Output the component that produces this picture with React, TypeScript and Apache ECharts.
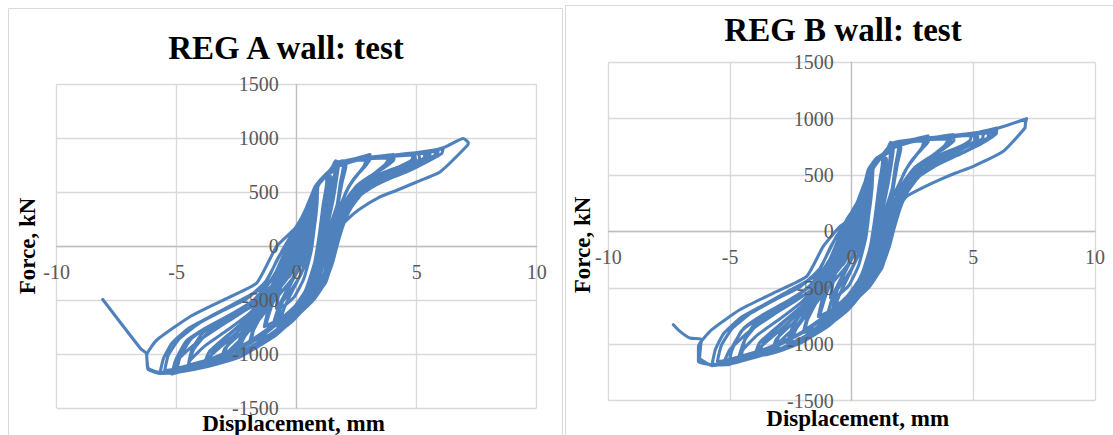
import React, { useEffect, useRef } from "react";
import * as echarts from "echarts";

// Axis ranges and tick steps
const DISP_MIN = -10;
const DISP_MAX = 10;
const DISP_STEP = 5;
const FORCE_MIN = -1500;
const FORCE_MAX = 1500;
const FORCE_STEP = 500;

const panelTitles = ["REG A wall: test", "REG B wall: test"];
const xAxisTitle = "Displacement, mm";
const yAxisTitle = "Force, kN";

// Cyclic test record, REG A wall: [displacement mm, force kN]
const regA: [number, number][] = [
  // level 1
  [0, 0], [0.2, 150], [0.38, 260], [0.35, 180], [0.2, 0], [0, -150], [-0.3, -280], [-0.42, -300], [-0.35, -200], [-0.15, -30], [0.05, 120],
  // level 2
  [0.3, 290], [0.6, 450], [0.82, 530], [0.8, 450], [0.65, 250], [0.5, 0], [0.2, -250], [-0.3, -430], [-0.7, -540], [-0.85, -575], [-0.75, -450], [-0.5, -250], [-0.2, 0], [0.15, 200],
  [0.45, 370], [0.7, 490], [0.85, 520], [0.85, 420], [0.75, 200], [0.6, -50], [0.3, -300], [-0.1, -470], [-0.6, -560], [-0.85, -560], [-0.7, -400], [-0.4, -180], [-0.05, 60], [0.3, 280],
  // level 3
  [0.6, 440], [0.95, 600], [1.25, 665], [1.25, 590], [1.1, 380], [0.95, 120], [0.75, -150], [0.35, -420], [-0.3, -620], [-0.9, -700], [-1.35, -745], [-1.2, -600], [-0.9, -380], [-0.5, -120], [-0.1, 140], [0.3, 300],
  [0.7, 500], [1.05, 620], [1.3, 660], [1.28, 560], [1.15, 320], [1.0, 50], [0.8, -220], [0.4, -460], [-0.2, -640], [-0.9, -740], [-1.3, -740], [-1.05, -560], [-0.6, -330], [0.1, -80], [0.35, 150], [0.55, 400],
  // level 4
  [0.8, 545], [1.2, 655], [1.5, 730], [1.75, 780], [1.72, 710], [1.55, 480], [1.2, 220], [0.95, -30], [0.7, -300], [0.35, -500], [-0.3, -690], [-1.1, -820], [-1.9, -885], [-1.8, -780], [-1.5, -650], [-1.1, -480], [-0.7, -260], [0.05, 0], [0.3, 200], [0.55, 420],
  [0.9, 585], [1.3, 680], [1.65, 750], [1.68, 690], [1.52, 430], [1.25, 150], [1.05, -100], [0.8, -330], [0.45, -540], [-0.2, -700], [-1.0, -830], [-1.95, -880], [-1.75, -720], [-1.25, -520], [-0.75, -300], [0.2, -50], [0.45, 220], [0.7, 450],
  [0.95, 590], [1.2, 650], [1.35, 620], [1.3, 480], [1.15, 300], [1.0, 100], [0.8, -120], [0.55, -330], [0.2, -520], [-0.4, -680], [-0.7, -700], [-0.5, -560], [-0.1, -380], [0.3, -200], [0.55, 0], [0.75, 200], [0.85, 400],
  // level 5
  [0.9, 580], [1.3, 680], [1.5, 740], [1.62, 790], [1.75, 780], [1.9, 792], [2.02, 785], [2.05, 740], [1.9, 600], [1.75, 420], [1.6, 220], [1.4, 0], [1.15, -250], [0.5, -450], [-0.3, -650], [-1.1, -830], [-1.8, -930], [-2.5, -990], [-2.35, -880], [-1.9, -740], [-1.4, -580], [-0.9, -380], [-0.45, -130], [0, 130], [0.4, 340],
  [0.7, 500], [0.8, 550], [1.25, 665], [1.7, 760], [2.0, 775], [1.98, 700], [1.8, 520], [1.62, 300], [1.2, 100], [1.0, -100], [0.8, -330], [0.3, -520], [-0.4, -690], [-1.2, -860], [-1.9, -940], [-2.55, -975], [-2.3, -820], [-1.7, -630], [-1.1, -420], [-0.2, -180], [0.3, 60], [0.5, 260],
  [0.9, 560], [1.3, 660], [1.45, 640], [1.4, 500], [1.3, 330], [1.15, 150], [0.95, -50], [0.65, -260], [0.3, -440], [-0.3, -620], [-0.8, -690], [-0.6, -520], [-0.2, -330], [0.2, -160], [0.45, 50], [0.6, 250],
  [0.6, 430], [1.0, 610], [1.45, 715], [1.85, 770], [1.95, 745], [1.82, 590], [1.68, 380], [1.35, 160], [1.1, -40], [0.85, -270], [0.5, -470], [-0.1, -625], [-0.9, -800], [-1.7, -920], [-2.45, -985], [-2.2, -850], [-1.5, -640], [-0.8, -360], [0.35, -60], [0.55, 150], [0.65, 350],
  // level 6
  [0.75, 520], [0.95, 600], [1.4, 700], [2.0, 790], [2.5, 815], [3.05, 849], [3.05, 800], [2.75, 720], [2.4, 630], [2.05, 500], [1.8, 330], [1.62, 120], [1.42, -80], [1.18, -300], [0.6, -500], [-0.05, -650], [-0.9, -820], [-2.0, -960], [-3.07, -1071], [-2.9, -990], [-2.4, -880], [-1.7, -720], [-1.0, -520], [0, -250], [0.45, 50], [0.6, 250],
  [0.7, 500], [1.1, 635], [1.6, 740], [2.2, 790], [2.9, 815], [2.95, 770], [2.6, 680], [2.2, 560], [1.9, 420], [1.5, 230], [1.25, 40], [1.0, -170], [0.75, -380], [0.3, -560], [-0.42, -720], [-1.3, -880], [-2.3, -1000], [-3.15, -1060], [-3.0, -950], [-2.3, -800], [-1.5, -600], [-0.7, -330], [-0.1, -40], [0.2, 110],
  [0.4, 350], [0.8, 545], [1.05, 625], [1.7, 750], [2.4, 795], [2.9, 800], [2.8, 740], [2.45, 640], [2.1, 520], [1.85, 360], [1.66, 170], [1.46, -20], [1.25, -230], [0.85, -420], [0.2, -590], [-0.6, -760], [-1.6, -920], [-2.6, -1020], [-3.1, -1040], [-2.8, -880], [-2.0, -680], [-1.2, -450], [-0.2, -170], [0.25, 100], [0.45, 280],
  [0.85, 560], [1.25, 660], [1.6, 700], [1.55, 600], [1.4, 420], [1.2, 250], [1.05, 60], [0.85, -150], [0.55, -350], [0.1, -540], [-0.6, -700], [-1.0, -740], [-0.75, -560], [-0.3, -360], [0.15, -150], [0.45, 80], [0.6, 300],
  // level 7
  [0.7, 510], [1.2, 655], [1.8, 760], [2.5, 805], [3.3, 830], [4.03, 849], [4.05, 800], [3.6, 720], [3.0, 640], [2.5, 560], [2.1, 440], [1.85, 280], [1.65, 80], [1.45, -120], [1.2, -330], [0.7, -500], [0, -650], [-0.9, -830], [-2.1, -990], [-3.1, -1070], [-3.75, -1102], [-3.6, -1020], [-3.0, -900], [-2.2, -740], [-1.4, -560], [-0.4, -300], [0.25, -10], [0.5, 250],
  [0.4, 340], [0.8, 545], [1.0, 612], [1.6, 740], [2.4, 795], [3.2, 815], [3.95, 830], [3.9, 780], [3.4, 690], [2.8, 600], [2.3, 500], [1.95, 360], [1.45, 170], [1.15, -30], [0.9, -250], [0.6, -420], [0.35, -550], [-0.5, -730], [-1.6, -910], [-2.7, -1040], [-3.5, -1090], [-3.85, -1090], [-3.65, -980], [-2.9, -830], [-2.0, -660], [-1.2, -460], [-0.3, -210], [0.4, 90],
  [0.55, 250], [0.6, 440], [1.15, 650], [1.9, 770], [2.8, 805], [3.5, 815], [3.85, 812], [3.7, 760], [3.15, 660], [2.6, 570], [2.15, 460], [1.88, 300], [1.2, 110], [0.95, -90], [0.7, -290], [0.45, -460], [0.1, -610], [-0.7, -780], [-1.9, -950], [-3.0, -1050], [-3.7, -1075], [-3.45, -960], [-2.6, -780], [-1.7, -600], [-0.9, -380], [0.1, -100], [0.3, 120],
  // level 8
  [0.35, 310], [0.75, 530], [0.95, 600], [1.6, 740], [2.5, 800], [3.5, 825], [4.4, 845], [5.07, 858], [5.12, 810], [4.6, 740], [3.9, 670], [3.2, 590], [2.6, 500], [2.15, 380], [1.88, 220], [1.66, 40], [1.46, -150], [1.22, -330], [0.75, -470], [0.05, -630], [-0.9, -820], [-2.2, -990], [-3.4, -1085], [-4.58, -1148], [-4.45, -1060], [-3.8, -920], [-2.9, -780], [-2.0, -630], [-1.2, -430], [-0.6, -170], [-0.1, 120],
  [0.15, 220], [0.6, 450], [1.1, 635], [1.8, 760], [2.8, 805], [3.9, 835], [4.9, 850], [4.95, 805], [4.4, 720], [3.6, 630], [2.9, 540], [2.35, 430], [1.98, 280], [1.45, 100], [1.2, -90], [0.95, -270], [0.7, -400], [0.3, -560], [-0.6, -740], [-1.9, -950], [-3.2, -1070], [-4.3, -1120], [-4.55, -1130], [-4.3, -960], [-3.7, -800], [-2.8, -660], [-1.7, -540], [-0.6, -300], [0.1, -20],
  [0.35, 180], [0.55, 420], [1.0, 612], [1.7, 750], [2.6, 800], [3.6, 825], [4.5, 840], [4.85, 845], [4.8, 800], [4.3, 740], [3.6, 680], [2.9, 600], [2.3, 490], [1.95, 330], [1.5, 120], [1.2, -80], [0.9, -280], [0.5, -420], [-0.2, -600], [-1.2, -790], [-2.5, -960], [-3.7, -1060], [-4.4, -1100], [-4.5, -1090], [-4.35, -950], [-3.9, -800], [-3.1, -680], [-2.2, -570], [-1.4, -420], [-0.7, -180], [-0.1, 80],
  // level 9
  [0.35, 180], [0.5, 400], [1.0, 612], [1.7, 750], [2.7, 805], [3.8, 835], [4.8, 860], [5.55, 883], [5.55, 840], [5.0, 760], [4.2, 680], [3.4, 600], [2.7, 500], [2.2, 370], [1.9, 210], [1.3, 30], [1.05, -160], [0.85, -320], [0.8, -440], [0.15, -600], [-0.7, -770], [-2.0, -970], [-3.4, -1080], [-4.6, -1150], [-5.2, -1185], [-5.05, -1060], [-4.6, -880], [-3.8, -760], [-2.8, -640], [-1.8, -500], [-1.0, -300], [-0.45, -30],
  [-0.2, 110], [0.3, 290], [0.7, 505], [0.9, 590], [1.5, 720], [2.4, 790], [3.5, 825], [4.6, 850], [5.45, 870], [5.45, 825], [4.8, 730], [4.0, 650], [3.2, 560], [2.5, 460], [2.05, 320], [1.78, 150], [1.6, -30], [1.4, -200], [1.1, -360], [0.5, -510], [-0.3, -690], [-1.5, -880], [-2.9, -1040], [-4.1, -1120], [-4.9, -1160], [-5.15, -1160], [-4.9, -1040], [-4.1, -880], [-3.1, -730], [-2.1, -590], [-1.0, -410], [-0.2, -150],
  [0, 60], [0.35, 300], [0.7, 505], [1.1, 630], [1.9, 770], [3.0, 812], [4.1, 840], [5.0, 858], [5.35, 862], [5.3, 815], [4.7, 750], [3.9, 690], [3.1, 610], [2.45, 510], [2.0, 380], [1.75, 200], [1.2, 20], [0.95, -170], [0.65, -340], [0.2, -500], [-0.6, -680], [-1.8, -880], [-3.2, -1040], [-4.4, -1120], [-5.0, -1150], [-4.85, -1020], [-4.4, -860], [-3.6, -740], [-2.6, -620], [-1.6, -480], [-0.5, -250], [0.25, 20],
  // level 10
  [0.2, 100], [0.45, 270], [0.7, 505], [1.05, 628], [1.8, 760], [2.9, 810], [4.0, 840], [5.1, 870], [6.1, 904], [6.05, 860], [5.5, 790], [4.7, 700], [3.8, 620], [3.0, 530], [2.4, 420], [2.05, 280], [1.55, 140], [1.3, -40], [1.05, -220], [0.8, -380], [0.4, -540], [-0.5, -720], [-1.7, -910], [-3.0, -1050], [-4.3, -1130], [-5.2, -1170], [-5.7, -1179], [-5.55, -1040], [-5.2, -900], [-4.5, -760], [-3.5, -640], [-2.5, -520], [-1.4, -380], [-0.8, -120], [-0.2, 100],
  [0.15, 200], [0.5, 400], [0.9, 575], [1.5, 715], [2.4, 795], [3.5, 825], [4.6, 850], [5.5, 870], [5.8, 880], [5.75, 840], [5.1, 780], [4.3, 710], [3.5, 640], [2.8, 560], [2.3, 450], [2.0, 300], [1.4, 150], [0.9, -20], [0.7, -200], [0.45, -380], [0, -540], [-0.9, -720], [-2.1, -900], [-3.4, -1030], [-4.6, -1110], [-5.4, -1150], [-5.5, -1150], [-5.35, -1010], [-4.9, -860], [-4.1, -720], [-3.1, -600], [-2.1, -490], [-1.3, -330], [-0.6, -40], [-0.1, 150],
  [0.25, 280], [0.65, 480], [1.2, 660], [2.0, 780], [3.1, 815], [4.2, 845], [5.2, 872], [5.9, 890], [5.85, 850], [5.2, 760], [4.3, 670], [3.4, 580], [2.7, 480], [2.25, 350], [1.95, 200], [1.7, 20], [1.5, -150], [1.2, -320], [0.6, -480], [-0.2, -660], [-1.3, -860], [-2.6, -1020], [-3.9, -1110], [-5.0, -1160], [-5.7, -1170], [-6.18, -1133], [-6.25, -1010],
  // peak cycle and post-peak tail
  [-5.83, -870], [-4.45, -654], [-3.06, -500], [-1.67, -343], [-0.83, 0], [0, 180], [0.42, 364], [0.76, 549], [0.97, 611], [1.39, 704], [1.73, 765], [2.0, 790], [2.6, 815], [3.5, 830], [4.5, 855], [5.5, 880], [6.2, 920], [6.94, 997], [7.15, 960], [7.12, 935], [5.97, 688], [5.0, 595], [4.2, 520], [3.47, 457], [2.6, 340], [2.08, 241], [1.73, 148], [1.53, -37], [1.25, -253], [0.69, -438], [0, -623], [-0.97, -840], [-2.4, -1030], [-3.8, -1120], [-5.0, -1170], [-5.7, -1180], [-6.2, -1140], [-6.26, -994], [-6.5, -950], [-8.08, -494],
];

// Cyclic test record, REG B wall: [displacement mm, force kN]
const regB: [number, number][] = [
  // level 1
  [0, 0], [0.18, 140], [0.36, 255], [0.33, 175], [0.18, -5], [-0.02, -155], [-0.32, -285], [-0.44, -310], [-0.37, -205], [-0.17, -35], [0.04, 110],
  // level 2
  [0.3, 280], [0.6, 440], [0.8, 525], [0.78, 445], [0.63, 245], [0.48, -5], [0.18, -255], [-0.32, -440], [-0.72, -550], [-0.87, -590], [-0.77, -460], [-0.52, -260], [-0.22, -10], [0.14, 180],
  [0.45, 360], [0.7, 500], [0.83, 515], [0.83, 415], [0.73, 195], [0.58, -55], [0.28, -305], [-0.12, -480], [-0.62, -570], [-0.87, -570], [-0.72, -410], [-0.42, -190], [-0.07, 50], [0.3, 270],
  // level 3
  [0.6, 450], [0.97, 610], [1.27, 670], [1.26, 595], [1.11, 385], [0.96, 125], [0.76, -145], [0.34, -425], [-0.32, -630], [-0.92, -710], [-1.37, -755], [-1.22, -610], [-0.92, -390], [-0.52, -130], [-0.12, 125], [0.3, 285],
  [0.7, 510], [1.07, 630], [1.32, 665], [1.3, 565], [1.16, 325], [1.01, 55], [0.81, -215], [0.39, -465], [-0.22, -650], [-0.92, -750], [-1.32, -750], [-1.07, -570], [-0.62, -340], [0.08, -90], [0.33, 160], [0.55, 390],
  // level 4
  [0.8, 560], [1.2, 665], [1.52, 735], [1.72, 782], [1.7, 705], [1.53, 475], [1.18, 215], [0.93, -35], [0.68, -305], [0.33, -505], [-0.32, -700], [-1.12, -830], [-1.93, -895], [-1.83, -790], [-1.53, -660], [-1.13, -490], [-0.73, -270], [0.03, -10], [0.28, 180], [0.55, 410],
  [0.9, 595], [1.3, 690], [1.62, 755], [1.66, 685], [1.5, 425], [1.23, 145], [1.03, -105], [0.78, -335], [0.43, -545], [-0.22, -710], [-1.02, -840], [-1.98, -890], [-1.78, -730], [-1.28, -530], [-0.78, -310], [0.18, -60], [0.43, 200], [0.68, 440],
  [0.95, 595], [1.22, 655], [1.37, 625], [1.32, 485], [1.17, 305], [1.02, 105], [0.82, -115], [0.57, -325], [0.22, -515], [-0.38, -640], [-0.72, -700], [-0.52, -570], [-0.12, -390], [0.28, -210], [0.53, -10], [0.73, 190], [0.84, 395],
  // level 5
  [0.9, 590], [1.3, 690], [1.5, 745], [1.6, 790], [1.72, 778], [1.85, 790], [1.98, 786], [2.02, 740], [1.88, 600], [1.73, 415], [1.58, 215], [1.38, -5], [1.13, -255], [0.48, -455], [-0.32, -660], [-1.12, -840], [-1.84, -945], [-2.6, -1010], [-2.44, -895], [-1.97, -752], [-1.46, -590], [-0.95, -390], [-0.5, -140], [-0.04, 120], [0.38, 330],
  [0.7, 510], [0.8, 560], [1.25, 675], [1.68, 762], [1.98, 772], [1.96, 698], [1.78, 516], [1.6, 296], [1.18, 96], [0.98, -104], [0.78, -336], [0.28, -526], [-0.42, -700], [-1.23, -870], [-1.95, -955], [-2.65, -990], [-2.4, -832], [-1.78, -642], [-1.16, -430], [-0.22, -188], [0.28, 50], [0.48, 250],
  [0.88, 555], [1.28, 662], [1.43, 642], [1.38, 502], [1.28, 332], [1.13, 152], [0.93, -48], [0.63, -258], [0.28, -438], [-0.28, -600], [-0.78, -680], [-0.58, -512], [-0.18, -322], [0.22, -152], [0.47, 48], [0.6, 248],
  [0.6, 440], [1.0, 618], [1.45, 722], [1.83, 768], [1.93, 742], [1.8, 586], [1.66, 376], [1.33, 156], [1.08, -44], [0.83, -276], [0.48, -476], [-0.12, -632], [-0.93, -810], [-1.75, -932], [-2.55, -1000], [-2.28, -862], [-1.57, -652], [-0.86, -372], [0.33, -70], [0.53, 140], [0.63, 340],
  // level 6
  [0.74, 530], [0.95, 608], [1.4, 708], [2.02, 792], [2.55, 818], [3.15, 849], [3.16, 802], [2.84, 722], [2.48, 632], [2.12, 502], [1.86, 332], [1.66, 122], [1.45, -78], [1.2, -298], [0.6, -498], [-0.06, -645], [-0.93, -826], [-2.06, -968], [-3.2, -1075], [-3.02, -994], [-2.5, -884], [-1.78, -724], [-1.06, -524], [-0.02, -254], [0.43, 46], [0.58, 240],
  [0.7, 510], [1.1, 642], [1.6, 744], [2.24, 792], [2.98, 818], [3.03, 772], [2.68, 682], [2.27, 562], [1.95, 422], [1.52, 232], [1.27, 42], [1.02, -168], [0.76, -378], [0.3, -556], [-0.42, -722], [-1.34, -886], [-2.36, -1008], [-3.26, -1066], [-3.1, -956], [-2.38, -806], [-1.56, -606], [-0.74, -336], [-0.14, -46], [0.18, 100],
  [0.4, 345], [0.8, 552], [1.05, 632], [1.7, 754], [2.46, 798], [2.98, 802], [2.88, 742], [2.52, 642], [2.16, 522], [1.9, 362], [1.7, 172], [1.49, -18], [1.27, -228], [0.86, -418], [0.2, -586], [-0.62, -764], [-1.64, -926], [-2.68, -1026], [-3.2, -1048], [-2.9, -886], [-2.08, -686], [-1.26, -456], [-0.22, -176], [0.23, 95], [0.43, 270],
  [0.85, 565], [1.25, 665], [1.6, 705], [1.55, 605], [1.4, 425], [1.2, 255], [1.05, 65], [0.85, -145], [0.55, -345], [0.1, -530], [-0.6, -680], [-1.0, -740], [-0.75, -556], [-0.3, -356], [0.15, -146], [0.45, 84], [0.6, 300],
  // level 7
  [0.7, 520], [1.2, 662], [1.82, 762], [2.56, 808], [3.4, 834], [4.18, 858], [4.2, 806], [3.72, 724], [3.1, 644], [2.58, 564], [2.16, 444], [1.9, 284], [1.69, 84], [1.48, -116], [1.22, -326], [0.71, -496], [0, -640], [-0.93, -834], [-2.16, -996], [-3.2, -1076], [-3.9, -1105], [-3.74, -1024], [-3.1, -904], [-2.28, -744], [-1.46, -564], [-0.42, -304], [0.23, -14], [0.48, 240],
  [0.4, 345], [0.8, 552], [1.0, 620], [1.62, 744], [2.46, 797], [3.3, 818], [4.08, 834], [4.02, 784], [3.5, 694], [2.88, 604], [2.37, 504], [2.0, 364], [1.47, 174], [1.17, -26], [0.92, -246], [0.62, -416], [0.35, -546], [-0.52, -736], [-1.65, -918], [-2.78, -1048], [-3.62, -1096], [-3.98, -1096], [-3.78, -986], [-3.0, -836], [-2.06, -666], [-1.24, -466], [-0.32, -216], [0.38, 80],
  [0.53, 245], [0.6, 445], [1.15, 656], [1.92, 772], [2.88, 808], [3.6, 818], [3.98, 815], [3.82, 762], [3.25, 662], [2.68, 572], [2.22, 462], [1.93, 302], [1.22, 112], [0.97, -88], [0.72, -288], [0.46, -458], [0.1, -605], [-0.72, -786], [-1.96, -958], [-3.1, -1056], [-3.82, -1080], [-3.56, -964], [-2.68, -784], [-1.76, -604], [-0.94, -384], [0.08, -104], [0.28, 110],
  // level 8
  [0.34, 300], [0.75, 538], [0.95, 608], [1.62, 744], [2.58, 802], [3.62, 828], [4.54, 850], [5.14, 873], [5.18, 822], [4.66, 748], [3.98, 676], [3.28, 594], [2.66, 504], [2.2, 384], [1.92, 224], [1.7, 44], [1.48, -146], [1.24, -326], [0.76, -466], [0.05, -620], [-0.93, -824], [-2.26, -994], [-3.5, -1088], [-4.6, -1139], [-4.48, -1052], [-3.86, -916], [-2.96, -778], [-2.06, -628], [-1.25, -430], [-0.63, -170], [-0.12, 110],
  [0.14, 205], [0.6, 455], [1.1, 640], [1.82, 764], [2.9, 808], [4.02, 838], [5.02, 854], [5.06, 808], [4.5, 724], [3.7, 634], [2.98, 544], [2.42, 434], [2.04, 284], [1.47, 104], [1.22, -86], [0.97, -266], [0.72, -396], [0.3, -552], [-0.62, -744], [-1.96, -956], [-3.3, -1074], [-4.42, -1122], [-4.66, -1130], [-4.4, -964], [-3.8, -804], [-2.86, -664], [-1.76, -540], [-0.62, -300], [0.08, -20],
  [0.33, 170], [0.55, 410], [1.0, 620], [1.72, 754], [2.66, 804], [3.7, 830], [4.6, 848], [4.92, 852], [4.86, 806], [4.36, 744], [3.66, 684], [2.96, 604], [2.36, 494], [2.0, 334], [1.52, 124], [1.22, -76], [0.92, -276], [0.52, -416], [-0.22, -596], [-1.22, -786], [-2.52, -956], [-3.72, -1060], [-4.42, -1104], [-4.52, -1094], [-4.38, -954], [-3.94, -804], [-3.14, -684], [-2.24, -574], [-1.44, -424], [-0.72, -184], [-0.12, 76],
  // level 9
  [0.33, 170], [0.5, 385], [1.0, 620], [1.72, 754], [2.78, 808], [3.9, 840], [4.98, 868], [5.96, 917], [5.94, 866], [5.32, 776], [4.46, 690], [3.6, 606], [2.86, 506], [2.3, 376], [1.97, 214], [1.32, 34], [1.07, -156], [0.87, -316], [0.81, -432], [0.15, -585], [-0.72, -774], [-2.06, -976], [-3.5, -1084], [-4.7, -1152], [-5.07, -1183], [-4.94, -1064], [-4.54, -886], [-3.78, -766], [-2.82, -646], [-1.84, -506], [-1.03, -306], [-0.48, -36],
  [-0.22, 100], [0.3, 270], [0.7, 515], [0.9, 598], [1.5, 726], [2.46, 794], [3.6, 830], [4.74, 856], [5.62, 878], [5.6, 832], [4.94, 736], [4.12, 656], [3.3, 566], [2.58, 466], [2.1, 326], [1.82, 156], [1.63, -24], [1.42, -194], [1.12, -354], [0.5, -504], [-0.32, -686], [-1.55, -886], [-2.98, -1046], [-4.22, -1126], [-5.0, -1166], [-5.26, -1166], [-5.0, -1046], [-4.2, -886], [-3.2, -736], [-2.16, -596], [-1.02, -416], [-0.22, -156],
  [0, 55], [0.36, 270], [0.7, 512], [1.1, 636], [1.92, 772], [3.04, 814], [4.16, 844], [5.06, 864], [5.42, 868], [5.36, 820], [4.76, 756], [3.96, 694], [3.16, 614], [2.5, 514], [2.04, 384], [1.78, 204], [1.2, 24], [0.95, -166], [0.65, -336], [0.2, -496], [-0.62, -676], [-1.84, -876], [-3.24, -1036], [-4.44, -1116], [-5.02, -1146], [-4.88, -1016], [-4.42, -856], [-3.62, -736], [-2.62, -616], [-1.62, -476], [-0.52, -246], [0.23, 16],
  // level 10
  [0.18, 90], [0.44, 260], [0.7, 512], [1.05, 636], [1.82, 766], [2.96, 814], [4.1, 846], [5.2, 876], [5.96, 905], [5.92, 862], [5.4, 794], [4.64, 704], [3.78, 624], [2.98, 534], [2.42, 424], [2.08, 284], [1.57, 144], [1.32, -36], [1.07, -216], [0.82, -376], [0.4, -530], [-0.52, -714], [-1.75, -916], [-3.08, -1056], [-4.42, -1136], [-5.3, -1176], [-5.75, -1192], [-5.6, -1046], [-5.26, -906], [-4.56, -766], [-3.56, -646], [-2.56, -526], [-1.44, -386], [-0.84, -126], [-0.22, 90],
  [0.13, 160], [0.5, 370], [0.9, 585], [1.5, 718], [2.44, 798], [3.56, 828], [4.66, 854], [5.56, 874], [5.78, 884], [5.72, 842], [5.08, 782], [4.28, 712], [3.48, 642], [2.78, 562], [2.28, 452], [1.98, 302], [1.4, 152], [0.9, -18], [0.7, -198], [0.45, -378], [0, -536], [-0.92, -722], [-2.12, -902], [-3.42, -1032], [-4.62, -1112], [-5.42, -1152], [-5.52, -1152], [-5.36, -1012], [-4.92, -862], [-4.12, -722], [-3.12, -602], [-2.12, -492], [-1.32, -332], [-0.62, -42], [-0.12, 90],
  [0.24, 265], [0.64, 488], [1.2, 668], [2.02, 784], [3.16, 818], [4.3, 850], [5.3, 878], [5.85, 892], [5.8, 852], [5.2, 764], [4.34, 674], [3.46, 584], [2.76, 484], [2.3, 354], [1.99, 204], [1.74, 24], [1.53, -146], [1.22, -316], [0.6, -470], [-0.2, -646], [-1.32, -866], [-2.66, -1026], [-4.0, -1116], [-5.1, -1166], [-5.8, -1180], [-6.3, -1153], [-6.3, -1020],
  // peak cycle and post-peak tail
  [-5.75, -872], [-4.6, -695], [-3.22, -547], [-1.85, -399], [-1.17, -133], [-0.48, 44], [0.07, 133], [0.41, 310], [0.68, 547], [1.03, 651], [1.57, 725], [1.71, 784], [1.98, 799], [2.6, 818], [3.5, 836], [4.5, 860], [5.5, 885], [6.3, 935], [7.19, 1000], [7.14, 960], [7.12, 917], [6.23, 710], [5.0, 577], [4.3, 520], [3.63, 459], [2.8, 375], [2.26, 310], [1.85, 193], [1.71, 15], [1.44, -192], [0.89, -369], [0, -580], [-1.03, -784], [-2.12, -961], [-3.22, -1065], [-4.2, -1130], [-5.07, -1180], [-5.8, -1185], [-6.25, -1120], [-6.2, -1000], [-6.17, -955], [-6.65, -946], [-7.06, -887], [-7.33, -828],
];

const SERIF = "'Times New Roman', 'Liberation Serif', serif";
const LINE_BLUE = "#4f81bd";
const GRID_GRAY = "#d9d9d9";
const AXIS_GRAY = "#bfbfbf";
const LABEL_GRAY = "#595959";

type PanelLayout = {
  plot: { left: number; top: number; width: number; height: number };
  frame: { x: number; y: number; width: number; height: number };
  title: [number, number];
  yName: [number, number];
  xName: [number, number];
};

const layouts: PanelLayout[] = [
  {
    plot: { left: 56.7, top: 84.3, width: 480, height: 323.7 },
    frame: { x: 8.5, y: 8.5, width: 554, height: 440 },
    title: [286, 48],
    yName: [27, 246],
    xName: [293.5, 423],
  },
  {
    plot: { left: 608.4, top: 62.3, width: 486.6, height: 338.2 },
    frame: { x: 565.5, y: 5.5, width: 600, height: 440 },
    title: [843, 29.5],
    yName: [582, 245],
    xName: [857.7, 418],
  },
];

const panelData = [regA, regB];

const plainNumber = (v: number) => String(v);

function buildOption(): echarts.EChartsOption {
  const grid: any[] = [];
  const xAxis: any[] = [];
  const yAxis: any[] = [];
  const series: any[] = [];
  const graphic: any[] = [];

  layouts.forEach((lay, i) => {
    const main = grid.length;
    // main grid: gridlines and zero axes, drawn beneath the curve
    grid.push({ ...lay.plot, containLabel: false });
    // overlay grid with the same rect: tick labels drawn above the curve,
    // shifted in to the crossing point of the two zero lines
    grid.push({ ...lay.plot, containLabel: false });

    const xBase = { type: "value", min: DISP_MIN, max: DISP_MAX, interval: DISP_STEP };
    const yBase = { type: "value", min: FORCE_MIN, max: FORCE_MAX, interval: FORCE_STEP };

    xAxis.push({
      ...xBase,
      gridIndex: main,
      axisLine: { show: true, onZero: true, lineStyle: { color: AXIS_GRAY, width: 1.3 } },
      axisTick: { show: false },
      axisLabel: { show: false },
      splitLine: { show: true, lineStyle: { color: GRID_GRAY, width: 1.3 } },
    });
    xAxis.push({
      ...xBase,
      gridIndex: main + 1,
      position: "bottom",
      offset: -lay.plot.height / 2,
      z: 10,
      axisLine: { show: false, onZero: false },
      axisTick: { show: false },
      splitLine: { show: false },
      axisLabel: { show: true, fontSize: 20, color: LABEL_GRAY, fontFamily: SERIF, margin: 16, formatter: plainNumber },
    });
    yAxis.push({
      ...yBase,
      gridIndex: main,
      axisLine: { show: true, onZero: true, lineStyle: { color: AXIS_GRAY, width: 1.3 } },
      axisTick: { show: false },
      axisLabel: { show: false },
      splitLine: { show: true, lineStyle: { color: GRID_GRAY, width: 1.3 } },
    });
    yAxis.push({
      ...yBase,
      gridIndex: main + 1,
      position: "left",
      offset: -lay.plot.width / 2,
      z: 10,
      axisLine: { show: false, onZero: false },
      axisTick: { show: false },
      splitLine: { show: false },
      axisLabel: { show: true, fontSize: 20, color: LABEL_GRAY, fontFamily: SERIF, margin: 18, formatter: plainNumber },
    });

    series.push({
      type: "line",
      xAxisIndex: main,
      yAxisIndex: main,
      data: panelData[i],
      showSymbol: false,
      symbol: "none",
      smooth: 0.15,
      z: 2,
      lineStyle: { color: LINE_BLUE, width: 3.1, join: "round", cap: "round" },
    });

    graphic.push({
      type: "rect",
      z: -10,
      silent: true,
      shape: { ...lay.frame },
      style: { fill: "transparent", stroke: GRID_GRAY, lineWidth: 1 },
    });
    graphic.push({
      type: "text",
      x: lay.title[0],
      y: lay.title[1],
      style: {
        text: panelTitles[i],
        fontFamily: SERIF,
        fontSize: 33,
        fontWeight: "bold",
        fill: "#000000",
        align: "center",
        verticalAlign: "middle",
      },
    });
    graphic.push({
      type: "text",
      x: lay.xName[0],
      y: lay.xName[1],
      style: {
        text: xAxisTitle,
        fontFamily: SERIF,
        fontSize: 23,
        fontWeight: "bold",
        fill: "#000000",
        align: "center",
        verticalAlign: "middle",
      },
    });
    graphic.push({
      type: "text",
      x: lay.yName[0],
      y: lay.yName[1],
      rotation: Math.PI / 2,
      style: {
        text: yAxisTitle,
        fontFamily: SERIF,
        fontSize: 23,
        fontWeight: "bold",
        fill: "#000000",
        align: "center",
        verticalAlign: "middle",
      },
    });
  });

  return {
    animation: false,
    backgroundColor: "#ffffff",
    grid,
    xAxis,
    yAxis,
    series,
    graphic,
  };
}

export default function App() {
  const ref = useRef<HTMLDivElement>(null);

  useEffect(() => {
    if (!ref.current) return;
    const chart = echarts.init(ref.current, undefined, { renderer: "svg" });
    chart.setOption(buildOption());
    return () => chart.dispose();
  }, []);

  return (
    <div
      ref={ref}
      style={{ position: "fixed", left: 0, top: 0, width: 1113, height: 435, background: "#ffffff" }}
    />
  );
}
